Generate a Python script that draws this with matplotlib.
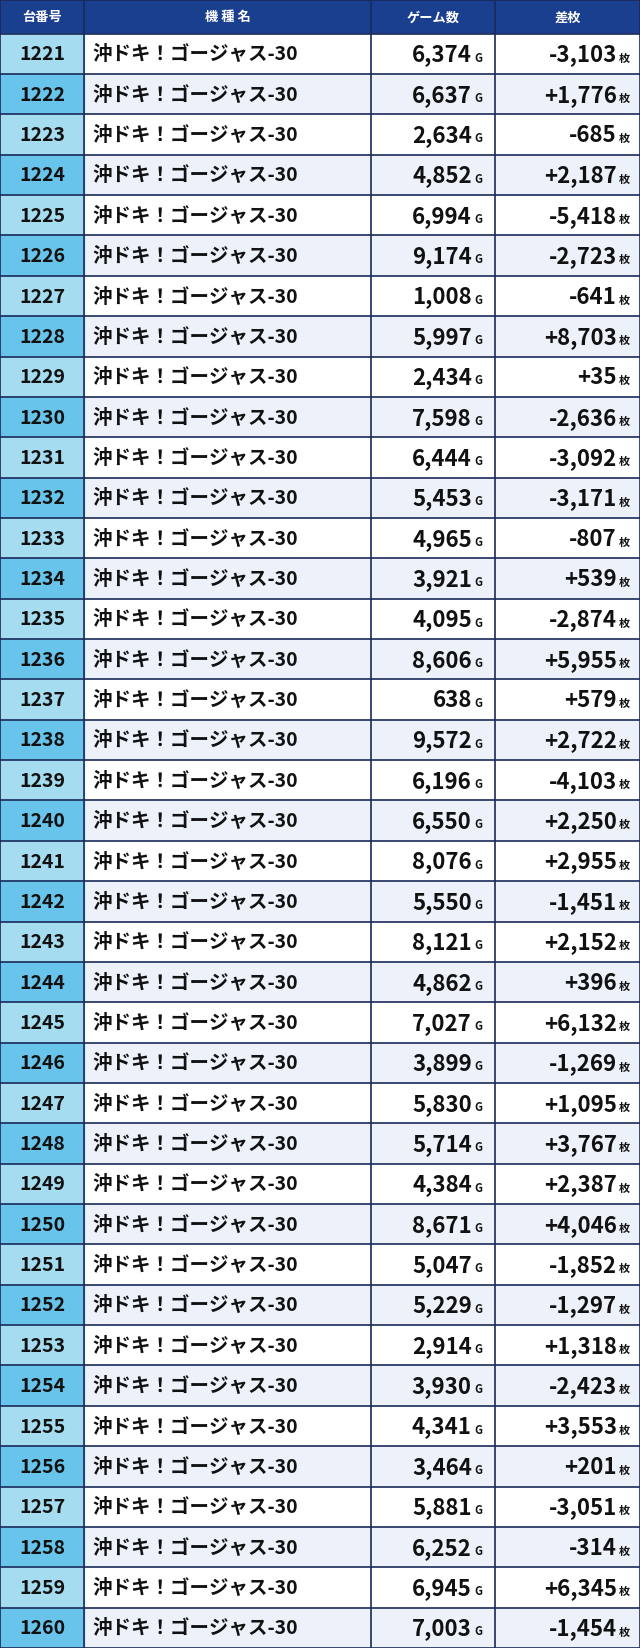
import matplotlib
matplotlib.use('Agg')
import matplotlib.pyplot as plt
from matplotlib.patches import Rectangle

plt.rcParams['font.family'] = ['Noto Sans CJK JP', 'DejaVu Sans']

machines = list(range(1221, 1261))
model = '沖ドキ！ゴージャス-30'
games = [6374, 6637, 2634, 4852, 6994, 9174, 1008, 5997, 2434, 7598,
         6444, 5453, 4965, 3921, 4095, 8606, 638, 9572, 6196, 6550,
         8076, 5550, 8121, 4862, 7027, 3899, 5830, 5714, 4384, 8671,
         5047, 5229, 2914, 3930, 4341, 3464, 5881, 6252, 6945, 7003]
diffs = [-3103, 1776, -685, 2187, -5418, -2723, -641, 8703, 35, -2636,
         -3092, -3171, -807, 539, -2874, 5955, 579, 2722, -4103, 2250,
         2955, -1451, 2152, 396, 6132, -1269, 1095, 3767, 2387, 4046,
         -1852, -1297, 1318, -2423, 3553, 201, -3051, -314, 6345, -1454]
headers = ['台番号', '機 種 名', 'ゲーム数', '差枚']

W, H = 609, 1568
cols = [0, 80, 353, 471, 609]
head_h = 33
row_h = (H - head_h) / len(machines)
navy = '#1b3f8f'
line = '#1a2a5a'

fig = plt.figure(figsize=(6.4, 16.49), dpi=100)
ax = fig.add_axes([0, 0, 1, 1])
ax.set_xlim(0, W)
ax.set_ylim(H, 0)
ax.axis('off')

ax.add_patch(Rectangle((0, 0), W, head_h, color=navy, zorder=1))
for i, h in enumerate(headers):
    ax.text((cols[i] + cols[i + 1]) / 2, head_h / 2, h, color='white',
            fontsize=9.5, fontweight='bold', ha='center', va='center')

for r, (m, g, d) in enumerate(zip(machines, games, diffs)):
    y0 = head_h + r * row_h
    yc = y0 + row_h / 2
    bg = 'white' if r % 2 == 0 else '#edf2fa'
    first = '#a6dcf0' if r % 2 == 0 else '#68c4ea'
    ax.add_patch(Rectangle((cols[1], y0), W - cols[1], row_h, color=bg, zorder=1))
    ax.add_patch(Rectangle((0, y0), cols[1], row_h, color=first, zorder=1))
    ax.text(cols[1] / 2, yc, str(m), fontsize=14, fontweight='bold',
            ha='center', va='center', color='#111')
    ax.text(cols[1] + 8, yc, model, fontsize=14, fontweight='bold',
            ha='left', va='center', color='#111')
    ax.text(cols[3] - 22, yc, f'{g:,}', fontsize=16, fontweight='bold',
            ha='right', va='center', color='#111')
    ax.text(cols[3] - 20, yc + 3, 'G', fontsize=8, fontweight='bold',
            ha='left', va='center', color='#111')
    ax.text(cols[4] - 22, yc, f'{d:+,}', fontsize=16, fontweight='bold',
            ha='right', va='center', color='#111')
    ax.text(cols[4] - 20, yc + 3, '枚', fontsize=8, fontweight='bold',
            ha='left', va='center', color='#111')

# grid lines
for i in range(len(machines) + 1):
    y = head_h + i * row_h
    ax.plot([0, W], [y, y], color=line, lw=1.2, zorder=3)
for x in cols:
    ax.plot([x, x], [0, H], color=line, lw=1.2, zorder=3)
ax.plot([0, W], [0, 0], color=line, lw=2, zorder=3)

fig.savefig('out.png', dpi=100)
